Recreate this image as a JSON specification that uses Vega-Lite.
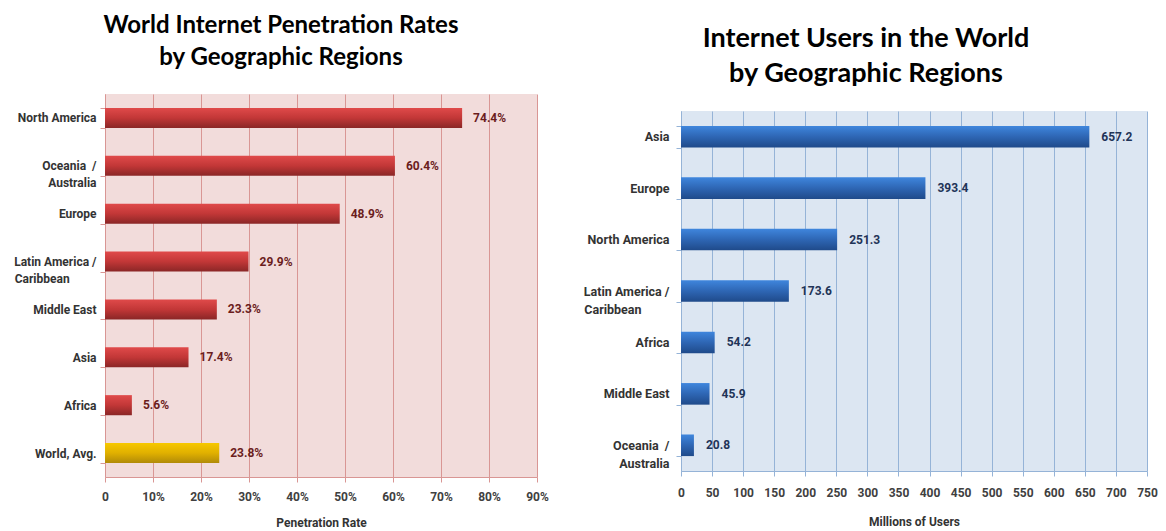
{
  "$schema": "https://vega.github.io/schema/vega-lite/v6.json",
  "background": "white",
  "padding": {"left": 13, "top": 14, "right": 8, "bottom": 2},
  "bounds": "flush",
  "spacing": 144,
  "config": {
    "font": "Roboto, Liberation Sans, sans-serif",
    "view": {"stroke": null}
  },
  "hconcat": [
    {
      "width": 432,
      "height": 383,
      "title": {
        "text": ["World Internet Penetration Rates", "by Geographic Regions"],
        "font": "Lato",
        "fontSize": 24,
        "fontWeight": "bold",
        "lineHeight": 32,
        "frame": "bounds",
        "anchor": "middle",
        "offset": 18,
        "color": "black"
      },
      "view": {"fill": "#f2dcdb", "stroke": null},
      "data": {
        "values": [
          {"region": "North America", "rate": 0.744},
          {"region": "Oceania / Australia", "rate": 0.604},
          {"region": "Europe", "rate": 0.489},
          {"region": "Latin America / Caribbean", "rate": 0.299},
          {"region": "Middle East", "rate": 0.233},
          {"region": "Asia", "rate": 0.174},
          {"region": "Africa", "rate": 0.056},
          {"region": "World, Avg.", "rate": 0.238}
        ]
      },
      "encoding": {
        "y": {
          "field": "region",
          "type": "nominal",
          "sort": null,
          "scale": {"paddingInner": 0.58, "paddingOuter": 0.29},
          "axis": {
            "title": null,
            "labelExpr": "datum.value == 'Oceania / Australia' ? ['Oceania\u00a0\u00a0/', 'Australia'] : datum.value == 'Latin America / Caribbean' ? ['Latin America /', 'Caribbean\u00a0\u00a0\u00a0\u00a0\u00a0\u00a0\u00a0\u00a0\u00a0\u200b'] : datum.value",
            "labelFontSize": 12,
            "labelFontWeight": "bold",
            "labelColor": "#333333",
            "labelLineHeight": 17,
            "labelPadding": 4,
            "labelLimit": 200,
            "domainColor": "#d99694",
            "tickColor": "#d99694",
            "tickBand": "extent",
            "tickSize": 5,
            "grid": false
          }
        },
        "x": {
          "field": "rate",
          "type": "quantitative",
          "scale": {"domain": [0, 0.9], "nice": false},
          "axis": {
            "title": "Penetration Rate",
            "values": [0, 0.1, 0.2, 0.3, 0.4, 0.5, 0.6, 0.7, 0.8, 0.9],
            "labelExpr": "datum.value == 0 ? '0' : format(datum.value, '.0%')",
            "labelOverlap": false,
            "labelFlush": false,
            "grid": true,
            "gridColor": "#d99694",
            "gridOpacity": 1,
            "domainColor": "#d99694",
            "tickColor": "#d99694",
            "tickSize": 5,
            "labelFontSize": 12,
            "labelFontWeight": "bold",
            "labelColor": "#404040",
            "labelPadding": 9,
            "titleFontSize": 12,
            "titleFontWeight": "bold",
            "titleColor": "#333333",
            "titlePadding": 15
          }
        }
      },
      "layer": [
        {
          "transform": [{"filter": "datum.region != 'World, Avg.'"}],
          "mark": {
            "type": "bar",
            "color": {
              "gradient": "linear", "x1": 0, "y1": 0, "x2": 0, "y2": 1,
              "stops": [
                {"offset": 0, "color": "#e04a4a"},
                {"offset": 0.5, "color": "#c23737"},
                {"offset": 1, "color": "#8a2626"}
              ]
            }
          }
        },
        {
          "transform": [{"filter": "datum.region == 'World, Avg.'"}],
          "mark": {
            "type": "bar",
            "color": {
              "gradient": "linear", "x1": 0, "y1": 0, "x2": 0, "y2": 1,
              "stops": [
                {"offset": 0, "color": "#f7c800"},
                {"offset": 0.5, "color": "#e0b000"},
                {"offset": 1, "color": "#b08a08"}
              ]
            }
          }
        },
        {
          "mark": {"type": "text", "align": "left", "dx": 11, "fontSize": 12, "fontWeight": "bold", "color": "#6b1d1d"},
          "encoding": {"text": {"field": "rate", "type": "quantitative", "format": ".1%"}}
        }
      ]
    },
    {
      "spacing": 0,
      "bounds": "flush",
      "vconcat": [
        {
          "width": 466,
          "height": 17,
          "title": {
            "text": ["Internet Users in the World", "by Geographic Regions"],
            "font": "Lato",
            "fontSize": 27,
            "fontWeight": "bold",
            "lineHeight": 35,
            "frame": "group",
            "anchor": "middle",
            "dx": -48,
            "offset": 6,
            "color": "black"
          },
          "data": {"values": []},
          "mark": {"type": "point", "opacity": 0},
          "encoding": {}
        },
        {
          "width": 466,
          "height": 360,
          "view": {"fill": "#dce6f2", "stroke": null},
          "data": {
            "values": [
              {"region": "Asia", "users": 657.2},
              {"region": "Europe", "users": 393.4},
              {"region": "North America", "users": 251.3},
              {"region": "Latin America / Caribbean", "users": 173.6},
              {"region": "Africa", "users": 54.2},
              {"region": "Middle East", "users": 45.9},
              {"region": "Oceania / Australia", "users": 20.8}
            ]
          },
          "encoding": {
            "y": {
              "field": "region",
              "type": "nominal",
              "sort": null,
              "scale": {"paddingInner": 0.58, "paddingOuter": 0.29},
              "axis": {
                "title": null,
                "labelExpr": "datum.value == 'Oceania / Australia' ? ['Oceania\u00a0\u00a0/', 'Australia'] : datum.value == 'Latin America / Caribbean' ? ['Latin America /', 'Caribbean\u00a0\u00a0\u00a0\u00a0\u00a0\u00a0\u00a0\u00a0\u00a0\u200b'] : datum.value",
                "labelFontSize": 12.5,
                "labelFontWeight": "bold",
                "labelColor": "#333333",
                "labelLineHeight": 18,
                "labelPadding": 7,
                "labelLimit": 200,
                "domainColor": "#95b3d7",
                "tickColor": "#95b3d7",
                "tickBand": "extent",
                "tickSize": 5,
                "grid": false
              }
            },
            "x": {
              "field": "users",
              "type": "quantitative",
              "scale": {"domain": [0, 750], "nice": false},
              "axis": {
                "title": "Millions of Users",
                "values": [0, 50, 100, 150, 200, 250, 300, 350, 400, 450, 500, 550, 600, 650, 700, 750],
                "format": "d",
                "labelOverlap": false,
                "labelFlush": false,
                "grid": true,
                "gridColor": "#95b3d7",
                "gridOpacity": 1,
                "domainColor": "#95b3d7",
                "tickColor": "#95b3d7",
                "tickSize": 5,
                "labelFontSize": 12,
                "labelFontWeight": "bold",
                "labelColor": "#404040",
                "labelPadding": 11,
                "titleFontSize": 12,
                "titleFontWeight": "bold",
                "titleColor": "#333333",
                "titlePadding": 18
              }
            }
          },
          "layer": [
            {
              "mark": {
                "type": "bar",
                "color": {
                  "gradient": "linear", "x1": 0, "y1": 0, "x2": 0, "y2": 1,
                  "stops": [
                    {"offset": 0, "color": "#3f86dd"},
                    {"offset": 0.5, "color": "#2e66b4"},
                    {"offset": 1, "color": "#1f4a8a"}
                  ]
                }
              }
            },
            {
              "mark": {"type": "text", "align": "left", "dx": 12, "fontSize": 12, "fontWeight": "bold", "color": "#1f3458"},
              "encoding": {"text": {"field": "users", "type": "quantitative", "format": ".1f"}}
            }
          ]
        }
      ]
    }
  ]
}
